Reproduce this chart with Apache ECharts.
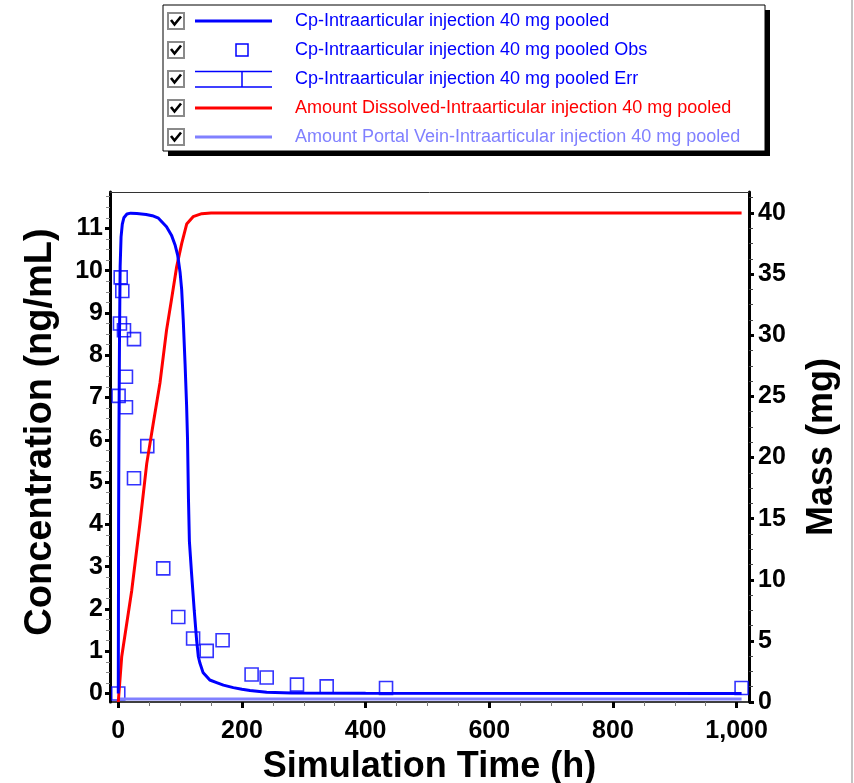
<!DOCTYPE html>
<html><head><meta charset="utf-8">
<script src="https://cdn.jsdelivr.net/npm/echarts@6/dist/echarts.min.js"></script>
<style>html,body{margin:0;padding:0;background:#fff}#c{width:854px;height:783px}</style>
</head><body><div id="c"></div>
<script>
// ---- data ----
const cpTime = [0,0.5,1,2,3,4.5,6.5,9,14,20,30,45,55,65,78,86,92,96,100,102.5,105,108,110.5,112,113.5,115,118.5,122.8,126.7,129.5,132,137,148,159,170,186,200,213,240,280,400,1008];
const cpConc = [0,4,6,8.5,10.1,10.8,11.1,11.25,11.34,11.36,11.35,11.33,11.3,11.24,11.04,10.84,10.6,10.37,9.95,9.55,8.85,7.8,6.8,6.0,4.6,3.6,2.84,1.97,1.26,0.87,0.72,0.5,0.32,0.26,0.2,0.14,0.1,0.07,0.03,0.01,0.005,0.003];
const obsTime = [3.9,6.5,2.7,9.2,25.4,12.4,0.5,12.4,46.9,25.4,72.7,97,121,143,168.7,215.6,240,289,0,337,433,1008];
const obsConc = [9.84,9.52,8.75,8.59,8.38,7.49,7.04,6.77,5.85,5.09,2.96,1.81,1.30,1.01,1.26,0.45,0.38,0.21,0,0.17,0.13,0.13];
const dissTime = [0,5.5,21.7,35,46,56.6,67.4,78,86,94.4,102.5,110.6,121,135,150,1008];
const dissAmount = [0,3.7,9.1,14.6,19.5,22.8,26.1,30.4,32.9,35.6,37.5,39.1,39.7,39.95,40,40];
const portalTime = [0,100,200,500,1008];
const portalAmount = [0.25,0.25,0.25,0.25,0.25];
const xTicks = [0,200,400,600,800,1000];
const xMinorTicks = [50,100,150,250,300,350,450,500,550,650,700,750,850,900,950];
const leftTicks = [0,1,2,3,4,5,6,7,8,9,10,11];
const leftMinorTicks = [0.25,0.5,0.75,1.25,1.5,1.75,2.25,2.5,2.75,3.25,3.5,3.75,4.25,4.5,4.75,5.25,5.5,5.75,6.25,6.5,6.75,7.25,7.5,7.75,8.25,8.5,8.75,9.25,9.5,9.75,10.25,10.5,10.75,11.25,11.5,11.75];
const rightTicks = [0,5,10,15,20,25,30,35,40];
const rightMinorTicks = [1.25,2.5,3.75,6.25,7.5,8.75,11.25,12.5,13.75,16.25,17.5,18.75,21.25,22.5,23.75,26.25,27.5,28.75,31.25,32.5,33.75,36.25,37.5,38.75,41.25];
const legendLabels = [
  'Cp-Intraarticular injection 40 mg pooled',
  'Cp-Intraarticular injection 40 mg pooled Obs',
  'Cp-Intraarticular injection 40 mg pooled Err',
  'Amount Dissolved-Intraarticular injection 40 mg pooled',
  'Amount Portal Vein-Intraarticular injection 40 mg pooled'
];
const xTitle = 'Simulation Time (h)';
const yLeftTitle = 'Concentration (ng/mL)';
const yRightTitle = 'Mass (mg)';

// ---- build ----
const zip = (a, b) => a.map((v, i) => [v, b[i]]);
const FONT = '"Liberation Sans", Arial, sans-serif';
const BLUE = '#0000ff', RED = '#ff0000', LBLUE = '#8080ff';

const rowY = [21, 50, 79, 108, 137];
const textColors = [BLUE, BLUE, BLUE, RED, LBLUE];
const g = [];
g.push({type:'rect', shape:{x:168,y:10,width:602,height:146}, style:{fill:'#000'}});
g.push({type:'rect', shape:{x:163,y:5,width:602,height:146}, style:{fill:'#fff', stroke:'#000', lineWidth:1}});
legendLabels.forEach((lab, i) => {
  const y = rowY[i];
  g.push({type:'rect', shape:{x:168,y:y-8,width:16,height:16}, style:{fill:'#fff', stroke:'#8a8a8a', lineWidth:2}});
  g.push({type:'polyline', shape:{points:[[171,y-1],[174.5,y+3.5],[181,y-4.5]]}, style:{stroke:'#000', lineWidth:2.6, fill:null}});
  if (i === 1) {
    g.push({type:'rect', shape:{x:236,y:y-6,width:12,height:12}, style:{fill:null, stroke:BLUE, lineWidth:1.5}});
  } else if (i === 2) {
    g.push({type:'line', shape:{x1:195,y1:y-7.5,x2:272,y2:y-7.5}, style:{stroke:BLUE, lineWidth:1.5}});
    g.push({type:'line', shape:{x1:195,y1:y+8,x2:272,y2:y+8}, style:{stroke:BLUE, lineWidth:1.5}});
    g.push({type:'line', shape:{x1:242,y1:y-7.5,x2:242,y2:y+8}, style:{stroke:BLUE, lineWidth:1.5}});
  } else {
    g.push({type:'line', shape:{x1:195,y1:y,x2:272,y2:y}, style:{stroke:textColors[i], lineWidth:3}});
  }
  g.push({type:'text', x:295, y:y, style:{text:lab, fill:textColors[i], fontSize:18, fontFamily:FONT, verticalAlign:'middle', align:'left'}});
});
g.push({type:'line', shape:{x1:852,y1:0,x2:852,y2:783}, style:{stroke:'#b0b0b0', lineWidth:1.5}});

const labelStyle = {fontSize:25, fontWeight:'bold', color:'#000', fontFamily:FONT};
const titleStyle = {fontSize:36, fontWeight:'bold', color:'#000', fontFamily:FONT};
const XMIN = -13.4, XMAX = 1020, LMIN = -0.2, LMAX = 11.86, RMIN = 0, RMAX = 41.72;

const chart = echarts.init(document.getElementById('c'), null, {renderer:'canvas'});
chart.setOption({
  animation: false,
  backgroundColor: '#fff',
  grid: {left:110, right:105, top:192, bottom:81, containLabel:false, outerBoundsMode:'none'},
  legend: {show:false},
  graphic: g,
  xAxis: [
    {type:'value', position:'bottom', min:XMIN, max:XMAX, splitLine:{show:false},
     axisLine:{show:true, onZero:false, lineStyle:{color:'#000', width:1.5}},
     axisTick:{show:true, customValues:xTicks, length:6, lineStyle:{color:'#000', width:3}},
     axisLabel:{customValues:xTicks, margin:17, ...labelStyle, formatter:v => v.toLocaleString('en-US')},
     name:xTitle, nameLocation:'middle', nameGap:47, nameTextStyle:titleStyle},
    {type:'value', position:'bottom', min:XMIN, max:XMAX, splitLine:{show:false},
     axisLine:{show:false, onZero:false}, axisLabel:{show:false},
     axisTick:{show:true, customValues:xMinorTicks, length:4, lineStyle:{color:'#777', width:1}}},
    {type:'value', position:'top', min:XMIN, max:XMAX, splitLine:{show:false},
     axisLine:{show:true, onZero:false, lineStyle:{color:'#333', width:1}}, axisTick:{show:false}, axisLabel:{show:false}}
  ],
  yAxis: [
    {type:'value', position:'left', min:LMIN, max:LMAX, splitLine:{show:false},
     axisLine:{show:true, onZero:false, lineStyle:{color:'#000', width:3}},
     axisTick:{show:true, customValues:leftTicks, length:5, lineStyle:{color:'#000', width:3}},
     axisLabel:{customValues:leftTicks, margin:7, ...labelStyle},
     name:yLeftTitle, nameLocation:'middle', nameGap:50, nameTextStyle:{...titleStyle, fontSize:38, padding:[0,0,0,30]}},
    {type:'value', position:'right', min:RMIN, max:RMAX, splitLine:{show:false},
     axisLine:{show:true, onZero:false, lineStyle:{color:'#000', width:3}},
     axisTick:{show:true, customValues:rightTicks, length:5, lineStyle:{color:'#000', width:3}},
     axisLabel:{customValues:rightTicks, margin:9, ...labelStyle},
     name:yRightTitle, nameLocation:'middle', nameGap:55, nameTextStyle:titleStyle},
    {type:'value', position:'left', min:LMIN, max:LMAX, splitLine:{show:false},
     axisLine:{show:false, onZero:false}, axisLabel:{show:false},
     axisTick:{show:true, customValues:leftMinorTicks, length:4, lineStyle:{color:'#888', width:1}}},
    {type:'value', position:'right', min:RMIN, max:RMAX, splitLine:{show:false},
     axisLine:{show:false, onZero:false}, axisLabel:{show:false},
     axisTick:{show:true, customValues:rightMinorTicks, length:4, lineStyle:{color:'#444', width:1}}}
  ],
  series: [
    {name:legendLabels[4], type:'line', xAxisIndex:0, yAxisIndex:1, data:zip(portalTime, portalAmount),
     showSymbol:false, symbol:'none', lineStyle:{color:LBLUE, width:3}, itemStyle:{color:LBLUE}},
    {name:legendLabels[3], type:'line', xAxisIndex:0, yAxisIndex:1, data:zip(dissTime, dissAmount),
     showSymbol:false, symbol:'none', lineStyle:{color:RED, width:3}, itemStyle:{color:RED}},
    {name:legendLabels[0], type:'line', xAxisIndex:0, yAxisIndex:0, data:zip(cpTime, cpConc),
     showSymbol:false, symbol:'none', lineStyle:{color:BLUE, width:3}, itemStyle:{color:BLUE}},
    {name:legendLabels[1], type:'scatter', xAxisIndex:0, yAxisIndex:0, data:zip(obsTime, obsConc),
     symbol:'rect', symbolSize:13, itemStyle:{color:'rgba(0,0,0,0)', borderColor:BLUE, borderWidth:1.6}}
  ]
});
</script>
</body></html>
